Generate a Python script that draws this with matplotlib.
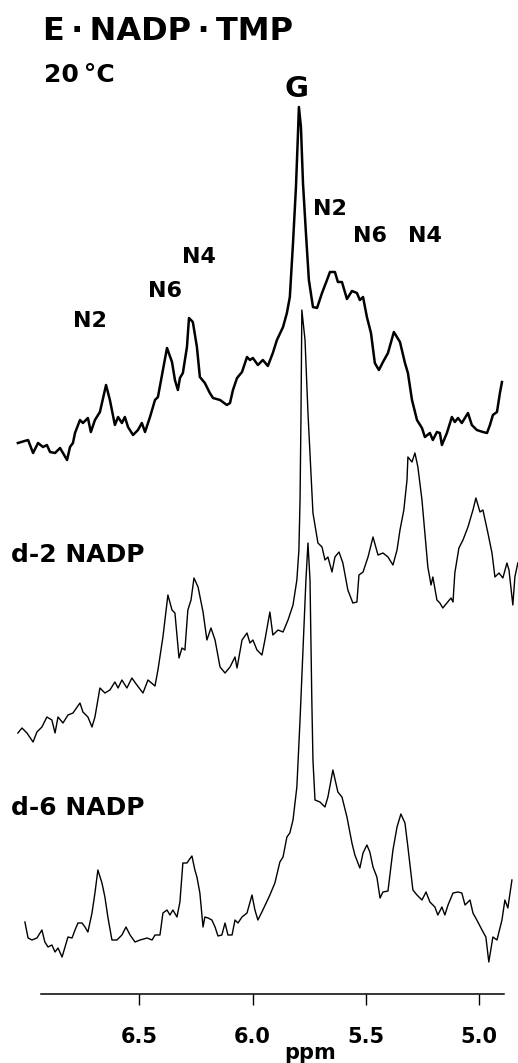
"""
1H NMR difference spectra of E.NADP.TMP at 20 C
(normal, d-2 NADP and d-6 NADP traces stacked).
"""

import matplotlib
matplotlib.use("Agg")
import matplotlib.pyplot as plt

# ----------------------------------------------------------------------
# 1. Spectra (ppm, intensity in arbitrary units)
# ----------------------------------------------------------------------

TOP_PPM = [
    7.036, 6.991, 6.969, 6.947, 6.925, 6.908, 6.894, 6.872, 6.850, 6.819,
    6.806, 6.793, 6.784, 6.762, 6.749, 6.727, 6.714, 6.696, 6.674, 6.647,
    6.630, 6.608, 6.594, 6.577, 6.564, 6.550, 6.528, 6.506, 6.489, 6.475,
    6.453, 6.431, 6.418, 6.396, 6.378, 6.356, 6.343, 6.330, 6.321, 6.308,
    6.290, 6.281, 6.264, 6.246, 6.233, 6.211, 6.189, 6.175, 6.144, 6.114,
    6.100, 6.087, 6.069, 6.047, 6.025, 6.012, 5.999, 5.977, 5.955, 5.933,
    5.911, 5.893, 5.866, 5.849, 5.836, 5.822, 5.809, 5.800, 5.796, 5.787,
    5.778, 5.765, 5.752, 5.734, 5.716, 5.694, 5.672, 5.659, 5.637, 5.624,
    5.606, 5.584, 5.562, 5.540, 5.527, 5.513, 5.496, 5.478, 5.461, 5.443,
    5.425, 5.403, 5.377, 5.350, 5.328, 5.315, 5.297, 5.275, 5.253, 5.240,
    5.218, 5.205, 5.187, 5.174, 5.165, 5.143, 5.121, 5.108, 5.094, 5.077,
    5.050, 5.033, 5.011, 4.984, 4.966, 4.953, 4.940, 4.922, 4.909, 4.900,
]
TOP_INT = [
    27, 30, 17, 27, 23, 25, 18, 17, 22, 10,
    23, 27, 37, 50, 47, 52, 38, 50, 58, 85,
    70, 45, 53, 47, 53, 43, 35, 40, 47, 38,
    53, 70, 73, 100, 122, 108, 90, 80, 92, 97,
    123, 152, 148, 123, 93, 87, 77, 72, 70, 65,
    67, 80, 92, 98, 113, 110, 112, 105, 110, 104,
    117, 130, 143, 157, 173, 227, 283, 337, 363, 343,
    287, 237, 190, 163, 162, 177, 190, 198, 198, 188,
    188, 171, 179, 177, 170, 173, 153, 137, 107, 100,
    108, 117, 138, 128, 107, 97, 70, 50, 42, 33,
    37, 30, 38, 37, 25, 37, 53, 48, 52, 47,
    57, 45, 40, 38, 37, 45, 55, 58, 77, 88,
]

D2_PPM = [
    7.036, 7.018, 6.996, 6.969, 6.952, 6.930, 6.908, 6.886, 6.872, 6.859,
    6.837, 6.815, 6.793, 6.762, 6.749, 6.727, 6.709, 6.696, 6.674, 6.652,
    6.630, 6.608, 6.594, 6.577, 6.555, 6.533, 6.511, 6.484, 6.462, 6.431,
    6.418, 6.396, 6.374, 6.356, 6.343, 6.325, 6.312, 6.299, 6.286, 6.272,
    6.259, 6.241, 6.219, 6.202, 6.184, 6.166, 6.144, 6.122, 6.100, 6.078,
    6.069, 6.047, 6.025, 6.012, 5.999, 5.981, 5.959, 5.946, 5.924, 5.911,
    5.888, 5.866, 5.844, 5.822, 5.805, 5.796, 5.791, 5.787, 5.783, 5.769,
    5.756, 5.734, 5.712, 5.694, 5.681, 5.668, 5.650, 5.637, 5.619, 5.602,
    5.580, 5.558, 5.540, 5.531, 5.513, 5.491, 5.469, 5.447, 5.425, 5.403,
    5.381, 5.363, 5.350, 5.333, 5.319, 5.315, 5.297, 5.284, 5.271, 5.253,
    5.240, 5.227, 5.213, 5.205, 5.187, 5.174, 5.161, 5.143, 5.125, 5.116,
    5.108, 5.090, 5.072, 5.050, 5.028, 5.015, 4.997, 4.984, 4.962, 4.944,
    4.931, 4.913, 4.896, 4.878, 4.869, 4.852, 4.843, 4.830,
]
D2_INT = [
    27, 32, 27, 18, 28, 33, 43, 40, 27, 43,
    37, 45, 47, 57, 48, 43, 33, 43, 72, 67,
    70, 78, 72, 80, 72, 82, 75, 67, 80, 74,
    90, 123, 165, 150, 147, 102, 112, 110, 150, 160,
    182, 173, 148, 120, 132, 120, 93, 87, 93, 103,
    92, 120, 127, 117, 120, 110, 105, 120, 148, 125,
    130, 128, 140, 155, 180, 210, 260, 340, 450, 420,
    347, 247, 217, 213, 200, 203, 188, 203, 208, 197,
    170, 157, 158, 185, 188, 203, 223, 205, 207, 203,
    195, 210, 230, 250, 280, 303, 298, 307, 293, 260,
    227, 193, 175, 183, 160, 157, 152, 157, 162, 158,
    187, 212, 220, 233, 250, 262, 248, 250, 227, 207,
    183, 187, 182, 197, 190, 155, 183, 197,
]

D6_PPM = [
    7.005, 6.991, 6.974, 6.952, 6.930, 6.917, 6.903, 6.886, 6.872, 6.859,
    6.841, 6.828, 6.815, 6.797, 6.784, 6.771, 6.753, 6.740, 6.727, 6.709,
    6.696, 6.683, 6.665, 6.652, 6.639, 6.621, 6.599, 6.577, 6.559, 6.541,
    6.519, 6.497, 6.466, 6.444, 6.431, 6.409, 6.396, 6.378, 6.365, 6.352,
    6.334, 6.321, 6.308, 6.290, 6.281, 6.268, 6.255, 6.246, 6.233, 6.219,
    6.211, 6.197, 6.180, 6.166, 6.153, 6.136, 6.122, 6.109, 6.091, 6.078,
    6.065, 6.047, 6.025, 6.003, 5.990, 5.977, 5.955, 5.924, 5.902, 5.880,
    5.866, 5.849, 5.836, 5.822, 5.805, 5.791, 5.778, 5.765, 5.756, 5.747,
    5.739, 5.734, 5.725, 5.703, 5.681, 5.668, 5.646, 5.624, 5.606, 5.584,
    5.562, 5.549, 5.527, 5.513, 5.496, 5.483, 5.469, 5.452, 5.438, 5.425,
    5.403, 5.381, 5.363, 5.346, 5.328, 5.315, 5.293, 5.275, 5.253, 5.235,
    5.218, 5.196, 5.183, 5.165, 5.152, 5.138, 5.116, 5.094, 5.077, 5.063,
    5.041, 5.028, 5.011, 4.988, 4.971, 4.958, 4.940, 4.922, 4.900, 4.887,
    4.874, 4.856,
]
D6_INT = [
    48, 32, 30, 32, 40, 28, 23, 25, 18, 22,
    13, 23, 33, 32, 40, 47, 47, 43, 38, 57,
    77, 100, 87, 73, 53, 30, 30, 35, 43, 35,
    28, 30, 32, 30, 35, 35, 57, 60, 55, 60,
    53, 68, 107, 107, 110, 114, 100, 93, 77, 43,
    53, 52, 50, 43, 34, 35, 47, 35, 35, 50,
    47, 53, 57, 75, 60, 50, 60, 75, 87, 108,
    113, 133, 137, 150, 183, 250, 320, 390, 427, 390,
    270, 210, 170, 168, 163, 173, 200, 178, 173, 153,
    127, 115, 102, 117, 125, 118, 103, 93, 72, 78,
    79, 120, 143, 156, 147, 123, 80, 75, 70, 78,
    68, 63, 55, 63, 55, 65, 77, 78, 77, 65,
    70, 57, 50, 40, 33, 8, 33, 30, 50, 70,
    62, 90,
]

TRACE_OFFSETS = [524, 234, 24]
TRACE_WIDTHS = [1.8, 1.0, 1.0]

TICKS = [6.5, 6.0, 5.5, 5.0]
TICK_LABELS = ["6.5", "6.0", "5.5", "5.0"]

# peak labels: (text, ppm, baseline height in axes units)
PEAK_LABELS = [
    ("N2", 6.718, 667),
    ("N6", 6.387, 697),
    ("N4", 6.237, 731),
    ("G", 5.805, 897),
    ("N2", 5.659, 779),
    ("N6", 5.483, 752),
    ("N4", 5.240, 752),
]

W, H = 518, 1063
FONT = "DejaVu Sans"


def fx(px):
    return px / W


def fy(py):
    return 1 - py / H


# ----------------------------------------------------------------------
# 2. Plot
# ----------------------------------------------------------------------


def plot():
    fig = plt.figure(figsize=(W / 100, H / 100), dpi=100)
    ax = fig.add_axes([fx(41), 1 - 994 / H, (504 - 41) / W, 994 / H])

    traces = [(TOP_PPM, TOP_INT), (D2_PPM, D2_INT), (D6_PPM, D6_INT)]
    for (ppm, inten), off, lw in zip(traces, TRACE_OFFSETS, TRACE_WIDTHS):
        ax.plot(ppm, [v + off for v in inten], color="black", linewidth=lw,
                solid_joinstyle="round", clip_on=False)

    ax.set_xlim(6.934, 4.891)
    ax.set_ylim(0, 994)

    for side in ("top", "left", "right"):
        ax.spines[side].set_visible(False)
    ax.spines["bottom"].set_linewidth(1.1)
    ax.set_yticks([])
    ax.set_xticks(TICKS)
    ax.set_xticklabels(TICK_LABELS, fontsize=15, fontweight="bold", family=FONT)
    ax.tick_params(axis="x", direction="out", length=8, width=1, pad=16)

    for text, ppm, h in PEAK_LABELS:
        size = 21 if text == "G" else 16
        ax.text(ppm, h, text, ha="center", va="baseline", fontsize=size,
                fontweight="bold", family=FONT)

    fig.text(fx(43), fy(40), "E\u2009·\u2009NADP\u2009·\u2009TMP", fontsize=23,
             fontweight="bold", family=FONT, va="baseline")
    fig.text(fx(44), fy(82), "20\u2009°C", fontsize=18, fontweight="bold",
             family=FONT, va="baseline")
    fig.text(fx(11), fy(562), "d-2 NADP", fontsize=18, fontweight="bold",
             family=FONT, va="baseline")
    fig.text(fx(11), fy(815), "d-6 NADP", fontsize=18, fontweight="bold",
             family=FONT, va="baseline")
    fig.text(fx(310), fy(1059), "ppm", fontsize=15, fontweight="bold",
             family=FONT, ha="center", va="baseline")

    fig.savefig("out.png", dpi=100)


if __name__ == "__main__":
    plot()
